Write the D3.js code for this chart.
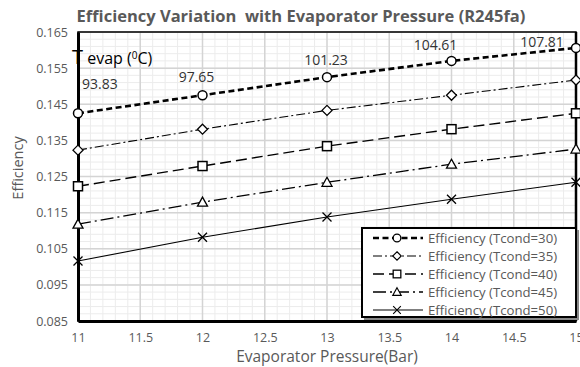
<!DOCTYPE html>
<html>
<head>
<meta charset="utf-8">
<script src="https://cdn.jsdelivr.net/npm/d3@7"></script>
<style>
  body { margin: 0; background: #fff; }
  svg { display: block; font-family: "Open Sans", "Liberation Sans", sans-serif; }
</style>
</head>
<body>
<div id="chart"></div>
<script>
// pressure (bar)
const pressures = [11, 12, 13, 14, 15];
// evaporation temperatures shown above the top series
const tEvap = ["93.83", "97.65", "101.23", "104.61", "107.81"];
const seriesNames = ["Efficiency (Tcond=30)", "Efficiency (Tcond=35)", "Efficiency (Tcond=40)", "Efficiency (Tcond=45)", "Efficiency (Tcond=50)"];
const eff30 = [0.1425, 0.1475, 0.1525, 0.1570, 0.1606];
const eff35 = [0.1323, 0.1381, 0.1433, 0.1475, 0.1517];
const eff40 = [0.1223, 0.1279, 0.1334, 0.1381, 0.1425];
const eff45 = [0.1118, 0.1179, 0.1234, 0.1284, 0.1326];
const eff50 = [0.1016, 0.1082, 0.1138, 0.1187, 0.1234];
const yTicks = [0.085, 0.095, 0.105, 0.115, 0.125, 0.135, 0.145, 0.155, 0.165];
const xTicks = [11, 11.5, 12, 12.5, 13, 13.5, 14, 14.5, 15];

const series = [eff30, eff35, eff40, eff45, eff50];
const styles = [
  { dash: "6,3.5", width: 2.6, marker: "circle" },
  { dash: "9,3,2,3", width: 1.1, marker: "diamond" },
  { dash: "11,5", width: 1.4, marker: "square" },
  { dash: "13,4,2,4", width: 1.3, marker: "triangle" },
  { dash: null, width: 1.1, marker: "cross" }
];

const W = 580, H = 367;
const margin = { top: 32, right: 4, bottom: 46, left: 78 };
const iw = W - margin.left - margin.right;
const ih = H - margin.top - margin.bottom;
const grey = "#595959";

const svg = d3.select("#chart").append("svg").attr("width", W).attr("height", H);
const g = svg.append("g").attr("transform", "translate(" + margin.left + "," + margin.top + ")");

const x = d3.scaleLinear().domain([11, 15]).range([0, iw]);
const y = d3.scaleLinear().domain([0.085, 0.165]).range([ih, 0]);

// minor grid
g.append("g").selectAll("line").data(d3.range(0, 41).map(i => 11 + i * 0.1))
  .join("line")
  .attr("x1", d => x(d)).attr("x2", d => x(d)).attr("y1", 0).attr("y2", ih)
  .attr("stroke", "#ececec").attr("stroke-width", 1);
g.append("g").selectAll("line").data(d3.range(0, 41).map(i => 0.085 + i * 0.002))
  .join("line")
  .attr("y1", d => y(d)).attr("y2", d => y(d)).attr("x1", 0).attr("x2", iw)
  .attr("stroke", "#ececec").attr("stroke-width", 1);
// major grid
g.append("g").selectAll("line").data(xTicks)
  .join("line")
  .attr("x1", d => x(d)).attr("x2", d => x(d)).attr("y1", 0).attr("y2", ih)
  .attr("stroke", "#d4d4d4").attr("stroke-width", 1.5);
g.append("g").selectAll("line").data(yTicks)
  .join("line")
  .attr("y1", d => y(d)).attr("y2", d => y(d)).attr("x1", 0).attr("x2", iw)
  .attr("stroke", "#d4d4d4").attr("stroke-width", 1.5);

// plot border
g.append("rect").attr("x", 0).attr("y", 0).attr("width", iw).attr("height", ih)
  .attr("fill", "none").attr("stroke", "#000").attr("stroke-width", 1.5);
g.append("line").attr("x1", iw).attr("x2", iw).attr("y1", 0).attr("y2", ih)
  .attr("stroke", "#000").attr("stroke-width", 2.5);

// axes
const xAxis = g.append("g").attr("transform", "translate(0," + ih + ")")
  .call(d3.axisBottom(x).tickValues(xTicks).tickSize(0).tickPadding(12).tickFormat(d3.format("")));
const yAxis = g.append("g")
  .call(d3.axisLeft(y).tickValues(yTicks).tickSize(0).tickPadding(10).tickFormat(d3.format(".3f")));
[xAxis, yAxis].forEach(a => {
  a.select(".domain").attr("stroke", "#000").attr("stroke-width", 3);
  a.selectAll("text").attr("fill", grey).style("font-size", "12.5px").style("font-family", "Open Sans, sans-serif");
});

// series
function drawMarker(sel, type) {
  if (type === "circle") {
    sel.append("circle").attr("r", 4.5).attr("fill", "#fff").attr("stroke", "#000").attr("stroke-width", 1.5);
  } else if (type === "diamond") {
    sel.append("path").attr("d", "M0,-5L5,0L0,5L-5,0Z").attr("fill", "#fff").attr("stroke", "#000").attr("stroke-width", 1.3);
  } else if (type === "square") {
    sel.append("rect").attr("x", -4.5).attr("y", -4.5).attr("width", 9).attr("height", 9).attr("fill", "#fff").attr("stroke", "#000").attr("stroke-width", 1.5);
  } else if (type === "triangle") {
    sel.append("path").attr("d", "M0,-5L5,4L-5,4Z").attr("fill", "#fff").attr("stroke", "#000").attr("stroke-width", 1.3);
  } else {
    sel.append("path").attr("d", "M-4.5,-4.5L4.5,4.5M-4.5,4.5L4.5,-4.5").attr("stroke", "#000").attr("stroke-width", 1.3);
  }
}

const line = d3.line().x((d, i) => x(pressures[i])).y(d => y(d));
series.forEach((vals, k) => {
  const st = styles[k];
  g.append("path").datum(vals).attr("d", line)
    .attr("fill", "none").attr("stroke", "#000").attr("stroke-width", st.width)
    .attr("stroke-dasharray", st.dash);
  g.append("g").selectAll("g").data(vals).join("g")
    .attr("transform", (d, i) => "translate(" + x(pressures[i]) + "," + y(d) + ")")
    .each(function () { drawMarker(d3.select(this), st.marker); });
});

// T evap labels
const labelDy = [-24, -13, -12, -11, -1];
const labelDx = [4, -6, -1, -16, -34];
g.append("g").selectAll("text").data(tEvap).join("text")
  .attr("x", (d, i) => x(pressures[i]) + labelDx[i])
  .attr("y", (d, i) => y(eff30[i]) + labelDy[i])
  .attr("text-anchor", (d, i) => i === 0 ? "start" : "middle")
  .attr("fill", "#333").style("font-size", "14px")
  .text(d => d);

const tl = g.append("text").attr("x", -6).attr("y", 32).attr("fill", "#000").style("font-size", "16px");
tl.append("tspan").style("font-size", "20px").text("T");
tl.append("tspan").text(" evap (");
tl.append("tspan").attr("dy", -5).style("font-size", "10px").text("0");
tl.append("tspan").attr("dy", 5).text("C)");

// title
svg.append("text").attr("x", 301).attr("y", 22).attr("text-anchor", "middle")
  .attr("fill", grey).style("font-size", "16.5px").style("font-weight", "bold")
  .style("white-space", "pre")
  .text("Efficiency Variation  with Evaporator Pressure (R245fa)");

// axis titles
svg.append("text").attr("x", 327).attr("y", 362).attr("text-anchor", "middle")
  .attr("fill", grey).style("font-size", "15.5px").text("Evaporator Pressure(Bar)");
svg.append("text").attr("transform", "translate(23,168) rotate(-90)").attr("text-anchor", "middle")
  .attr("fill", grey).style("font-size", "14.5px").text("Efficiency");

// legend
const lg = svg.append("g").attr("transform", "translate(362,228)");
lg.append("rect").attr("x", 2).attr("y", 2).attr("width", 215).attr("height", 90).attr("fill", "#888");
lg.append("rect").attr("width", 214).attr("height", 89).attr("fill", "#fff").attr("stroke", "#000").attr("stroke-width", 2);
seriesNames.forEach((name, k) => {
  const st = styles[k];
  const row = lg.append("g").attr("transform", "translate(0," + (10 + k * 18) + ")");
  row.append("line").attr("x1", 11).attr("x2", 61).attr("y1", 0).attr("y2", 0)
    .attr("stroke", "#000").attr("stroke-width", st.width).attr("stroke-dasharray", st.dash);
  const m = row.append("g").attr("transform", "translate(35,0) scale(0.85)");
  drawMarker(m, st.marker);
  row.append("text").attr("x", 66).attr("y", 5).attr("fill", grey).style("font-size", "13.2px").text(name);
});
</script>
</body>
</html>
